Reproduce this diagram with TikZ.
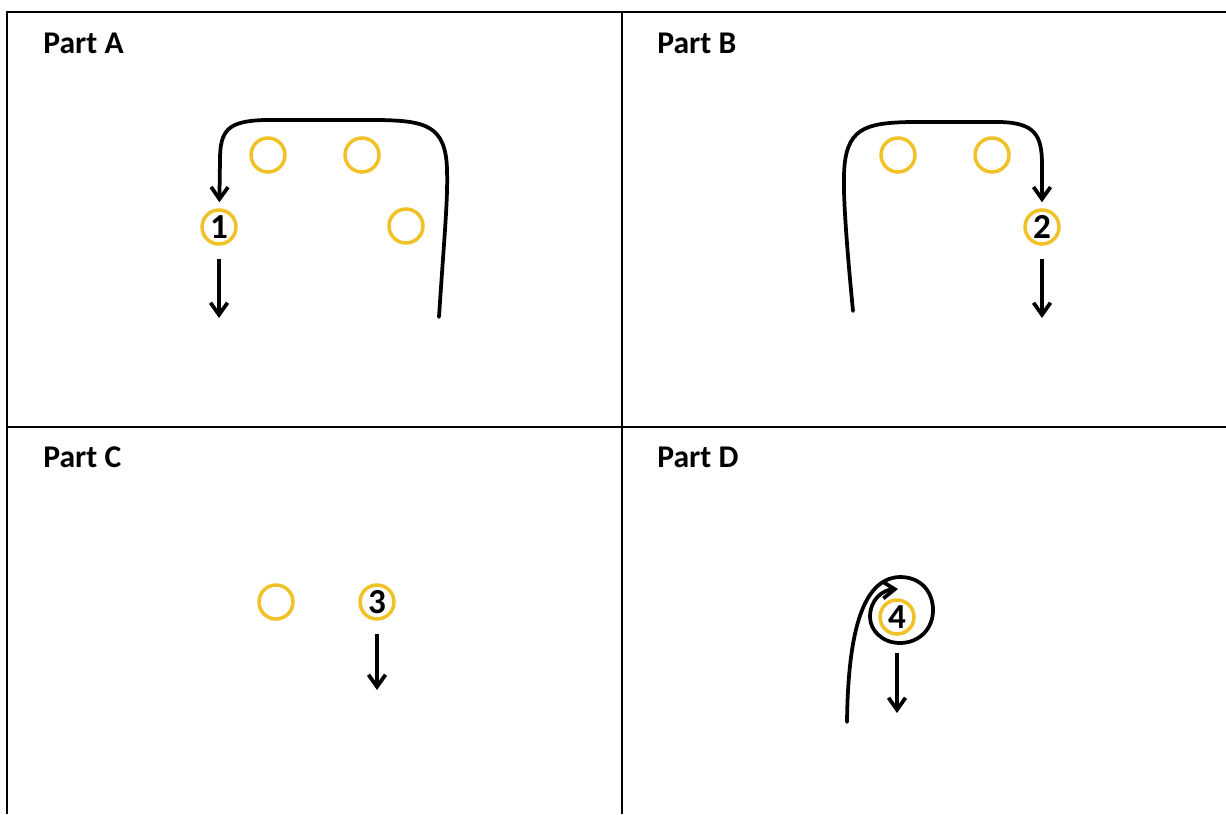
\documentclass[tikz,border=0pt]{standalone}
\usepackage{fontspec}
\setmainfont{Carlito}
\usetikzlibrary{arrows.meta}
\definecolor{spot}{RGB}{240,194,40}
\begin{document}
\begin{tikzpicture}[
    x=0.02cm, y=-0.02cm,
    grid/.style={line width=0.05cm},
    title/.style={anchor=base west, inner sep=0pt, font=\fontsize{18}{21}\selectfont\bfseries},
    spot/.style={circle, draw=spot, line width=0.07cm, minimum size=0.68cm, inner sep=0pt,
                 font=\fontsize{20}{22}\selectfont\bfseries},
    arr/.style={-{Straight Barb[length=0.24cm, width=0.34cm]}, line width=0.075cm},
    run/.style={line width=0.075cm, line cap=round}
  ]
    \useasboundingbox (0,0) rectangle (1226,814);

    \draw[grid] (7,814) -- (7,12) -- (1226,12);
    \draw[grid] (7,427) -- (1226,427);
    \draw[grid] (622,12) -- (622,814);

    \node[title] (ta) at (43,54)  {Part A};
    \node[title] (tb) at (657,54) {Part B};
    \node[title] (tc) at (43,467) {Part C};
    \node[title] (td) at (657,467){Part D};

    \node[spot] (n1)  at (219,227) {1};
    \node[spot] (a2)  at (268,155) {};
    \node[spot] (a3)  at (362,155) {};
    \node[spot] (a4)  at (406,226) {};
    \node[spot] (b1)  at (898,155) {};
    \node[spot] (b2)  at (992,155) {};
    \node[spot] (n2)  at (1042,227){2};
    \node[spot] (c1)  at (276,602) {};
    \node[spot] (n3)  at (377,602) {3};
    \node[spot] (n4)  at (897,617) {4};

    \coordinate (aStart) at (439,317);
    \coordinate (aEnd)   at (219,318);
    \coordinate (bStart) at (853,311);
    \coordinate (bEnd)   at (1042,318);
    \coordinate (cEnd)   at (377,690);
    \coordinate (dStart) at (847,722);
    \coordinate (dTip)   at (898,589);
    \coordinate (dEnd)   at (897,713);

    \draw[arr, run, shorten >=0.12cm] (aStart) .. controls (444,240) and (448,200) .. (447,170)
        .. controls (446,125) and (425,121) .. (380,120) -- (265,120)
        .. controls (228,121) and (220,130) .. (220,160) -- (n1);
    \draw[arr, shorten <=0.26cm] (n1) -- (aEnd);

    \draw[arr, run, shorten >=0.12cm] (bStart) .. controls (848,260) and (843,200) .. (844,175)
        .. controls (845,128) and (865,123) .. (910,122) -- (1000,122)
        .. controls (1035,123) and (1042,135) .. (1042,165) -- (n2);
    \draw[arr, shorten <=0.26cm] (n2) -- (bEnd);

    \draw[arr, shorten <=0.26cm] (n3) -- (cEnd);

    \draw[arr, run] (dStart) .. controls (848,640) and (860,578) .. (900,577)
        .. controls (922,577) and (933,593) .. (933,610)
        .. controls (933,630) and (918,643) .. (900,643)
        .. controls (882,643) and (870,630) .. (870,617)
        .. controls (870,600) and (882,590) .. (dTip);
    \draw[arr, shorten <=0.34cm] (n4) -- (dEnd);
  \end{tikzpicture}
\end{document}
